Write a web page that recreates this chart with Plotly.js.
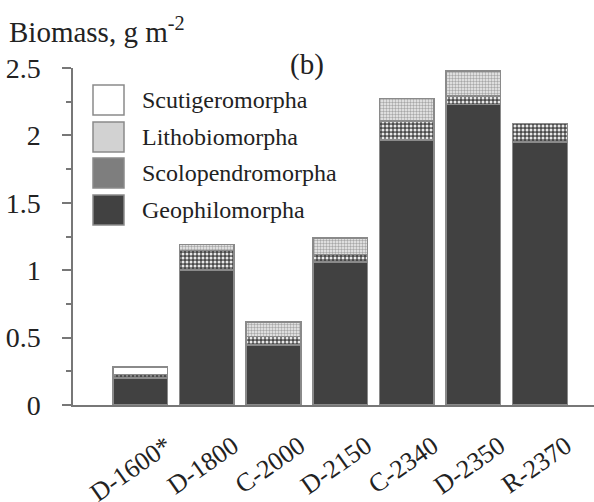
<!DOCTYPE html>
<html><head><meta charset="utf-8">
<script src="https://cdn.plot.ly/plotly-3.0.1.min.js"></script>
<style>html,body{margin:0;padding:0;background:#fff}#chart{width:594px;height:502px}</style>
</head><body><div id="chart"></div>
<script>
// Data
var bioCategories = ['D-1600*','D-1800','C-2000','D-2150','C-2340','D-2350','R-2370'];
var bioGeophilomorpha    = [0.20, 1.00, 0.444, 1.06, 1.965, 2.23, 1.95];
var bioScolopendromorpha = [0.025, 0.146, 0.066, 0.055, 0.143, 0.062, 0.14];
var bioLithobiomorpha    = [0, 0.043, 0.106, 0.123, 0.165, 0.185, 0];
var bioScutigeromorpha   = [0.058, 0, 0, 0, 0, 0, 0];
var bioSeriesNames = ['Scutigeromorpha','Lithobiomorpha','Scolopendromorpha','Geophilomorpha'];

(function(){
  var FNT = 'Times New Roman';
  var lineC = '#8a8a8a';
  var PL = 73, PR = 594, PT = 68, PB = 405;
  function fx(x){ return (x - PL) / (PR - PL); }
  function fy(y){ return (PB - y) / (PB - PT); }

  var sty = {
    Geophilomorpha: {color:'#414141'},
    Scolopendromorpha: {color:'#5a5a5a', pattern:{shape:'.', fgcolor:'#e8e8e8', bgcolor:'#4a4a4a', size:4, solidity:0.45}},
    Lithobiomorpha: {color:'#d0d0d0', pattern:{shape:'.', fgcolor:'#a8a8a8', bgcolor:'#f0f0f0', size:3, solidity:0.5}},
    Scutigeromorpha: {color:'#ffffff'}
  };
  var legFill = {Scutigeromorpha:'#ffffff', Lithobiomorpha:'#d2d2d2', Scolopendromorpha:'#7e7e7e', Geophilomorpha:'#414141'};

  function mk(name, vals){
    var s = sty[name];
    var m = {color:s.color, line:{color:lineC, width:1.5}};
    if (s.pattern) m.pattern = s.pattern;
    return {type:'bar', name:name, x:bioCategories, y:vals, marker:m, showlegend:false, hoverinfo:'y+name'};
  }
  var trs = [
    mk('Geophilomorpha', bioGeophilomorpha),
    mk('Scolopendromorpha', bioScolopendromorpha),
    mk('Lithobiomorpha', bioLithobiomorpha),
    mk('Scutigeromorpha', bioScutigeromorpha)
  ];

  var shp = [
    {type:'line', xref:'paper', yref:'y', x0:fx(64), x1:0, y0:0, y1:0, line:{color:'#777', width:1.5}}
  ];
  var ann = [
    {xref:'paper', yref:'paper', x:fx(7), y:fy(30), xanchor:'left', yanchor:'middle', showarrow:false,
     text:'Biomass, g m<sup>-2</sup>', font:{family:FNT, size:29, color:'#222'}},
    {xref:'paper', yref:'paper', x:fx(307), y:fy(64), xanchor:'center', yanchor:'middle', showarrow:false,
     text:'(b)', font:{family:FNT, size:29, color:'#222'}}
  ];
  var tops = [85, 122, 158, 195];
  bioSeriesNames.forEach(function(n,i){
    shp.push({type:'rect', xref:'paper', yref:'paper', x0:fx(93), x1:fx(124), y0:fy(tops[i]+30), y1:fy(tops[i]),
      fillcolor:legFill[n], line:{color:lineC, width:1.5}});
    ann.push({xref:'paper', yref:'paper', x:fx(140), y:fy(tops[i]+15), xanchor:'left', yanchor:'middle',
      showarrow:false, text:n, font:{family:FNT, size:24, color:'#222'}});
  });

  var lay = {
    width:594, height:502,
    margin:{l:PL, r:0, t:PT, b:502-PB, pad:0},
    paper_bgcolor:'#fff', plot_bgcolor:'#fff',
    barmode:'stack', bargap:0.18,
    xaxis:{range:[-1.01, 6.81], showline:true, linecolor:'#777', linewidth:1.5, ticks:'', showgrid:false,
           zeroline:false, tickangle:-35, tickfont:{family:FNT, size:26, color:'#222'}, ticklabelshift:26,
           ticklabelstandoff:14},
    yaxis:{range:[0,2.5], showline:true, linecolor:'#777', linewidth:1.5, ticks:'outside', ticklen:9,
           tickcolor:'#777', tickwidth:1.5, tickvals:[0,0.5,1,1.5,2,2.5], ticktext:['0','0.5','1','1.5','2','2.5'],
           minor:{tickvals:[0.25,0.75,1.25,1.75,2.25], ticks:'outside', ticklen:5, tickcolor:'#777', tickwidth:1.5},
           showgrid:false, zeroline:false, tickfont:{family:FNT, size:28, color:'#222'}, ticklabelstandoff:16},
    shapes:shp, annotations:ann
  };
  Plotly.newPlot('chart', trs, lay, {displayModeBar:false});
})();
</script></body></html>
